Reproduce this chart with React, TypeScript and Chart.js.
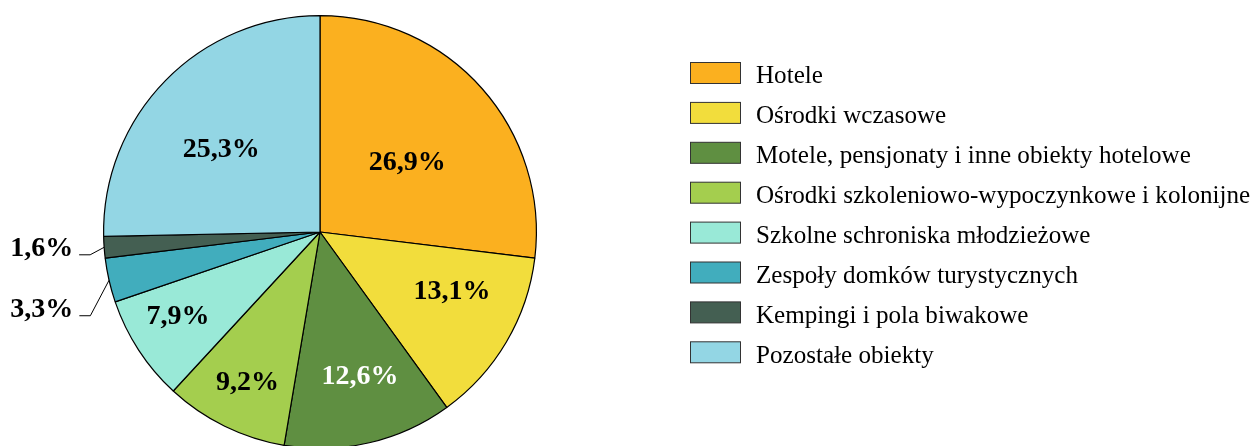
import React, { useEffect, useRef } from "react";
import { Chart, registerables } from "chart.js";

Chart.register(...registerables);

const categories = [
  "Hotele",
  "Ośrodki wczasowe",
  "Motele, pensjonaty i inne obiekty hotelowe",
  "Ośrodki szkoleniowo-wypoczynkowe i kolonijne",
  "Szkolne schroniska młodzieżowe",
  "Zespoły domków turystycznych",
  "Kempingi i pola biwakowe",
  "Pozostałe obiekty",
];
const values = [26.9, 13.1, 12.6, 9.2, 7.9, 3.3, 1.6, 25.3];
const valueLabels = ["26,9%", "13,1%", "12,6%", "9,2%", "7,9%", "3,3%", "1,6%", "25,3%"];
const colors = ["#FBB01F", "#F2DD3C", "#5F8F41", "#A4CE4E", "#99E9D7", "#41ADBD", "#445F52", "#93D6E4"];

// style: label radius fraction inside slice (null = outside with leader line)
const labelRadius: (number | null)[] = [0.516, 0.67, 0.694, 0.775, 0.765, null, null, 0.594];
// style: label angle shift in degrees from slice middle
const labelShift = [2.9, -6, -2.3, -0.5, 2.1, 0, 0, -4.6];
const labelColor = ["#000", "#000", "#fff", "#000", "#000", "#000", "#000", "#000"];
// leader elbow offsets [dx, dy] from slice edge point
const leader: ([number, number] | null)[] = [null, null, null, null, null, [-18.7, 35.5], [-14, 7.5], null];

const W = 1254;
const H = 446;
const CH = 470;

const labelPlugin = {
  id: "customLabels",
  afterDraw(chart: any) {
    const ctx = chart.ctx;
    const meta = chart.getDatasetMeta(0);
    ctx.save();
    meta.data.forEach((arc: any, i: number) => {
      const p = arc.getProps(["x", "y", "startAngle", "endAngle", "outerRadius"], true);
      const mid = (p.startAngle + p.endAngle) / 2;
      ctx.font = "bold 28px 'Liberation Serif', 'Times New Roman', serif";
      ctx.fillStyle = labelColor[i];
      const fr = labelRadius[i];
      if (fr !== null) {
        const a = mid + (labelShift[i] * Math.PI) / 180;
        const lx = p.x + Math.cos(a) * p.outerRadius * fr;
        const ly = p.y + Math.sin(a) * p.outerRadius * fr;
        ctx.textAlign = "center";
        ctx.textBaseline = "middle";
        ctx.fillText(valueLabels[i], lx, ly);
      } else {
        const off = leader[i]!;
        const ex = p.x + Math.cos(mid) * p.outerRadius;
        const ey = p.y + Math.sin(mid) * p.outerRadius;
        const bx = ex + off[0];
        const by = ey + off[1];
        const hx = bx - 11;
        ctx.strokeStyle = "#000";
        ctx.lineWidth = 1;
        ctx.beginPath();
        ctx.moveTo(ex, ey);
        ctx.lineTo(bx, by);
        ctx.lineTo(hx, by);
        ctx.stroke();
        ctx.textAlign = "right";
        ctx.textBaseline = "alphabetic";
        ctx.fillText(valueLabels[i], hx - 6, by + 1.2);
      }
    });
    // legend
    const lx = 690;
    const ly0 = 73;
    const step = 39.9;
    categories.forEach((c, i) => {
      const cy = ly0 + i * step;
      ctx.fillStyle = colors[i];
      ctx.fillRect(lx, cy - 10.5, 50, 21);
      ctx.strokeStyle = "#333";
      ctx.lineWidth = 1;
      ctx.strokeRect(lx + 0.5, cy - 10.5, 50, 21);
      ctx.fillStyle = "#000";
      ctx.font = "25.1px 'Liberation Serif', 'Times New Roman', serif";
      ctx.textAlign = "left";
      ctx.textBaseline = "alphabetic";
      ctx.fillText(c, 756, cy + 10.3);
    });
    ctx.restore();
  },
};

export default function App() {
  const ref = useRef<HTMLCanvasElement>(null);
  useEffect(() => {
    document.body.style.margin = "0";
    const chart = new Chart(ref.current!, {
      type: "pie",
      data: {
        labels: categories,
        datasets: [
          {
            data: values,
            backgroundColor: colors,
            borderColor: "#000",
            borderWidth: 1.2,
            hoverOffset: 0,
            offset: 0,
          },
        ],
      },
      options: {
        responsive: false,
        animation: false,
        events: [],
        layout: { padding: { left: 103, top: 15, right: W - 537, bottom: CH - 449 } },
        plugins: { legend: { display: false }, tooltip: { enabled: false } },
      },
      plugins: [labelPlugin],
    });
    return () => chart.destroy();
  }, []);
  return (
    <div style={{ position: "absolute", left: 0, top: 0, width: W, height: H, overflow: "hidden", background: "#fff" }}>
      <canvas ref={ref} width={W} height={CH} style={{ display: "block", width: W, height: CH }} />
    </div>
  );
}
